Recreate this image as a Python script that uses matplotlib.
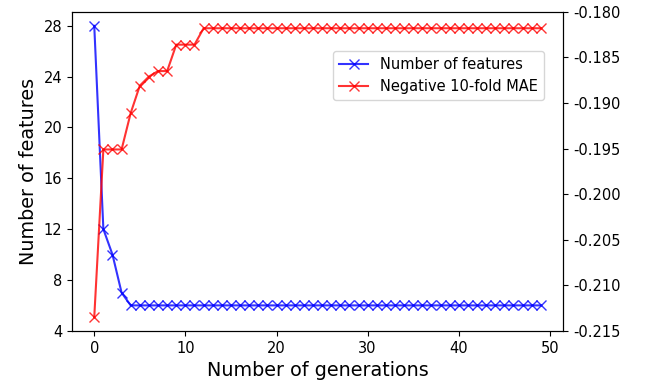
import matplotlib
matplotlib.use("Agg")
import matplotlib.pyplot as plt
import numpy as np

# values
generations = np.arange(50)
n_features = [28, 12, 10, 7] + [6] * 46
neg_mae = ([-0.2135, -0.1951, -0.1951, -0.1951, -0.1911, -0.1881, -0.1871,
            -0.1865, -0.1865, -0.1836, -0.1836, -0.1836] + [-0.1818] * 38)

fig, ax = plt.subplots(figsize=(6.48, 3.82), dpi=100)
ax2 = ax.twinx()

l1, = ax.plot(generations, n_features, color="blue", marker="x", markersize=7,
              alpha=0.8, linewidth=1.5, label="Number of features")
l2, = ax2.plot(generations, neg_mae, color="red", marker="x", markersize=7,
               alpha=0.8, linewidth=1.5, label="Negative 10-fold MAE")

ax.set_ylim(4, 29.1)
ax.set_yticks(range(4, 29, 4))
ax2.set_ylim(-0.215, -0.180)
ax2.set_yticks(np.arange(-0.215, -0.1799, 0.005))
ax2.yaxis.set_major_formatter(matplotlib.ticker.FormatStrFormatter("%.3f"))

ax.set_xlabel("Number of generations", fontsize=13.8)
ax.set_ylabel("Number of features", fontsize=13.8)
ax.tick_params(labelsize=10.5)
ax2.tick_params(labelsize=10.5)

ax.legend(handles=[l1, l2], loc="upper right", bbox_to_anchor=(0.975, 0.9),
          fontsize=10.5)

fig.subplots_adjust(left=0.111, right=0.869, top=0.969, bottom=0.134)
fig.savefig("out.png", dpi=100)
